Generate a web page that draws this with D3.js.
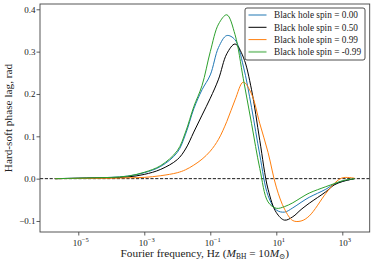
<!DOCTYPE html>
<html>
<head>
<meta charset="utf-8">
<script src="https://cdn.jsdelivr.net/npm/d3@7"></script>
<style>
body { margin: 0; background: #fff; }
text { font-family: "Liberation Serif", "DejaVu Serif", serif; fill: #222; }
</style>
</head>
<body>
<div id="chart"></div>
<script>
// log10 of Fourier frequency (Hz), shared by every series
var logFreq = [-5.7, -5, -4.5, -4, -3.5, -3, -2.5, -2, -1.75, -1.5, -1.25, -1, -0.75, -0.5,
  -0.25, 0, 0.25, 0.5, 0.75, 1, 1.25, 1.5, 1.75, 2, 2.5, 2.75, 3, 3.37];

// phase lag (rad) per black hole spin
var lag000 = [0, 0.001, 0.002, 0.003, 0.006, 0.014, 0.029, 0.062, 0.105, 0.165, 0.21, 0.245, 0.31, 0.338,
  0.328, 0.266, 0.168, 0.056, -0.04, -0.074, -0.079, -0.069, -0.056, -0.044, -0.025, -0.013, -0.006, 0];
var lag050 = [0, 0.001, 0.0015, 0.002, 0.004, 0.010, 0.022, 0.045, 0.07, 0.11, 0.15, 0.19, 0.235, 0.295,
  0.318, 0.287, 0.21, 0.09, -0.025, -0.08, -0.098, -0.09, -0.073, -0.058, -0.031, -0.015, -0.007, 0];
var lag099 = [0, 0.0005, 0.0008, 0.001, 0.002, 0.003, 0.007, 0.014, 0.021, 0.032, 0.046, 0.065, 0.093, 0.135,
  0.186, 0.228, 0.2, 0.13, 0.062, -0.02, -0.072, -0.099, -0.1, -0.088, -0.035, -0.012, 0.002, 0.001];
var lagm099 = [0, 0.001, 0.002, 0.003, 0.006, 0.015, 0.031, 0.066, 0.11, 0.17, 0.22, 0.3, 0.365, 0.387,
  0.34, 0.236, 0.13, 0.024, -0.055, -0.070, -0.066, -0.057, -0.045, -0.034, -0.019, -0.012, -0.005, 0];

var spins = ['0.00', '0.50', '0.99', '-0.99'];
var colors = ['#1f77b4', '#000000', '#ff7f0e', '#2ca02c'];
var yTicks = [-0.1, 0, 0.1, 0.2, 0.3, 0.4];
var xTickExp = [-5, -3, -1, 1, 3];

var width = 374, height = 264;
var margin = {left: 40, right: 4.3, top: 4, bottom: 32};

var svg = d3.select('#chart').append('svg')
    .attr('width', width)
    .attr('height', height);

var x = d3.scaleLog()
    .domain([Math.pow(10, -6.16), Math.pow(10, 3.83)])
    .range([margin.left, width - margin.right]);
var y = d3.scaleLinear()
    .domain([-0.126, 0.4125])
    .range([height - margin.bottom, margin.top]);

// ======================
// axes
// ======================
var xAxis = d3.axisBottom(x)
    .tickValues(xTickExp.map(function (e) { return Math.pow(10, e); }))
    .tickSize(3.5)
    .tickFormat('');
var gx = svg.append('g')
    .attr('transform', 'translate(0,' + (height - margin.bottom) + ')')
    .call(xAxis);
gx.select('.domain').remove();
gx.selectAll('.tick line').attr('stroke', '#333').attr('stroke-width', 0.8);
gx.selectAll('.tick').each(function (d, i) {
    var t = d3.select(this).append('text')
        .attr('y', 14)
        .attr('x', 2)
        .attr('text-anchor', 'middle')
        .style('font-size', '9px');
    t.append('tspan').text('10');
    t.append('tspan').attr('dy', -4).style('font-size', '6.5px')
        .text(String(xTickExp[i]).replace('-', '\u2212'));
});

var yAxis = d3.axisLeft(y)
    .tickValues(yTicks)
    .tickSize(3.5)
    .tickFormat(function (d) { return d3.format('.1f')(d).replace('-', '\u2212'); });
var gy = svg.append('g')
    .attr('transform', 'translate(' + margin.left + ',0)')
    .call(yAxis);
gy.select('.domain').remove();
gy.selectAll('.tick line').attr('stroke', '#333').attr('stroke-width', 0.8);
gy.selectAll('.tick text')
    .attr('x', -4.5)
    .style('font-family', '"Liberation Serif", serif')
    .style('font-size', '9px')
    .attr('fill', '#222');

// zero line
svg.append('line')
    .attr('x1', margin.left).attr('x2', width - margin.right)
    .attr('y1', y(0)).attr('y2', y(0))
    .attr('stroke', '#000')
    .attr('stroke-width', 0.9)
    .attr('stroke-dasharray', '3.2,1.6');

// ======================
// curves
// ======================
var line = d3.line()
    .x(function (d) { return x(Math.pow(10, d[0])); })
    .y(function (d) { return y(d[1]); })
    .curve(d3.curveCatmullRom.alpha(0.5));

var series = [lag000, lag050, lag099, lagm099];
series.forEach(function (vals, k) {
    svg.append('path')
        .datum(logFreq.map(function (f, i) { return [f, vals[i]]; }))
        .attr('d', line)
        .attr('fill', 'none')
        .attr('stroke', colors[k])
        .attr('stroke-width', 1);
});

// frame
svg.append('rect')
    .attr('x', margin.left).attr('y', margin.top)
    .attr('width', width - margin.left - margin.right)
    .attr('height', height - margin.top - margin.bottom)
    .attr('fill', 'none')
    .attr('stroke', '#444')
    .attr('stroke-width', 0.9);

// ======================
// legend
// ======================
var lg = svg.append('g').attr('transform', 'translate(245,8)');
lg.append('rect')
    .attr('width', 120).attr('height', 52)
    .attr('rx', 2)
    .attr('fill', '#fff')
    .attr('stroke', '#222')
    .attr('stroke-width', 0.8);
spins.forEach(function (s, k) {
    var row = lg.append('g').attr('transform', 'translate(0,' + (7 + k * 12.3) + ')');
    var thick = (k == 0 || k == 3);
    row.append('line')
        .attr('x1', 3.5).attr('x2', 21.5)
        .attr('stroke', colors[k])
        .attr('stroke-opacity', thick ? 0.5 : 1)
        .attr('stroke-width', thick ? 2 : 1);
    row.append('text')
        .attr('x', 29).attr('y', 3.2)
        .style('font-size', '9.3px')
        .text('Black hole spin = ' + s);
});

// ======================
// labels
// ======================
var xl = svg.append('text')
    .attr('x', (margin.left + width - margin.right) / 2)
    .attr('y', 257)
    .attr('text-anchor', 'middle')
    .style('font-size', '11.3px');
xl.append('tspan').text('Fourier frequency, Hz (');
xl.append('tspan').style('font-style', 'italic').text('M');
xl.append('tspan').attr('dy', 2).style('font-size', '7.5px').text('BH');
xl.append('tspan').attr('dy', -2).text(' = 10');
xl.append('tspan').style('font-style', 'italic').text('M');
xl.append('tspan').attr('dy', 2).style('font-size', '7.5px').text('\u2299');
xl.append('tspan').attr('dy', -2).text(')');

svg.append('text')
    .attr('transform', 'translate(12,' + (margin.top + height - margin.bottom) / 2 + ') rotate(-90)')
    .attr('text-anchor', 'middle')
    .style('font-size', '11.3px')
    .text('Hard-soft phase lag, rad');
</script>
</body>
</html>
